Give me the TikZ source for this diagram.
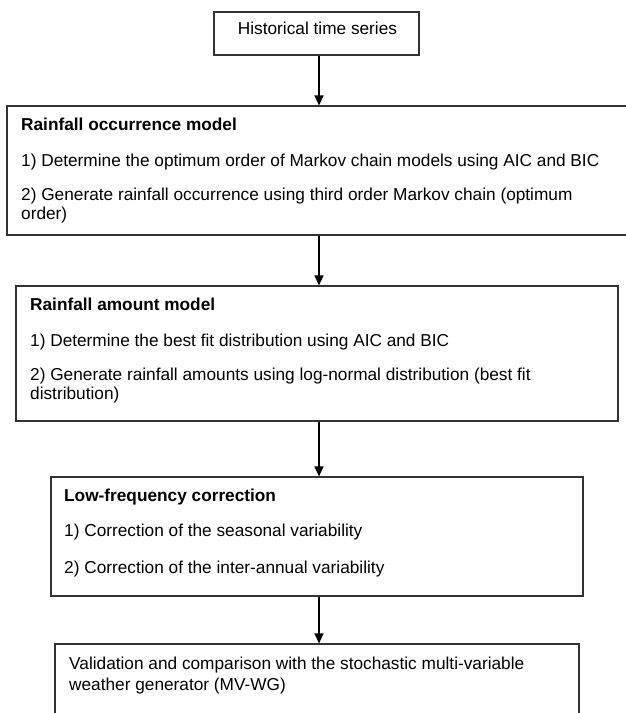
\documentclass[tikz,border=0pt]{standalone}
\usepackage{fontspec}
\setmainfont{Liberation Sans}
\usetikzlibrary{arrows.meta}

\begin{document}
\begin{tikzpicture}[x=1pt, y=-1pt,
  box/.style={draw=black!80, line width=1.1pt, inner sep=0pt},
  txt/.style={font=\fontsize{17.25}{20}\selectfont, inner sep=0pt, anchor=base west},
  arr/.style={-{Triangle[length=10pt,width=9pt]}, line width=1.2pt}]
  \useasboundingbox (0,0) rectangle (625,713);
  \coordinate (axis) at (319,0);
  % the five stages
  \node[box, minimum width=205pt, minimum height=43pt] (hist) at (316.5,33.5) {};
  \node[box, minimum width=625pt, minimum height=129pt] (occ) at (319.5,170.5) {};
  \node[box, minimum width=602pt, minimum height=135pt] (amt) at (317,353.5) {};
  \node[box, minimum width=532pt, minimum height=119pt] (lowf) at (317,536.5) {};
  \node[box, minimum width=524pt, minimum height=78pt] (valid) at (317,683) {};
  % texts
  \node[txt, anchor=base] (histT) at (317.5,34) {Historical time series};
  \node[txt] (occT) at (21,130) {\textbf{Rainfall occurrence model}};
  \node[txt] (occA) at (21,166) {1) Determine the optimum order of Markov chain models using AIC and BIC};
  \node[txt] (occB) at (21,200) {2) Generate rainfall occurrence using third order Markov chain (optimum};
  \node[txt] (occC) at (21,219) {order)};
  \node[txt] (amtT) at (30,310) {\textbf{Rainfall amount model}};
  \node[txt] (amtA) at (30,346) {1) Determine the best fit distribution using AIC and BIC};
  \node[txt] (amtB) at (30,380) {2) Generate rainfall amounts using log-normal distribution (best fit};
  \node[txt] (amtC) at (30,399) {distribution)};
  \node[txt] (lowfT) at (64,501) {\textbf{Low-frequency correction}};
  \node[txt] (lowfA) at (64,536) {1) Correction of the seasonal variability};
  \node[txt] (lowfB) at (64,573) {2) Correction of the inter-annual variability};
  \node[txt] (validA) at (69,669) {Validation and comparison with the stochastic multi-variable};
  \node[txt] (validB) at (69,690) {weather generator (MV-WG)};
  % arrows
  \draw[arr] (hist.south -| axis) -- (occ.north -| axis);
  \draw[arr] (occ.south -| axis) -- (amt.north -| axis);
  \draw[arr] (amt.south -| axis) -- (lowf.north -| axis);
  \draw[arr] (lowf.south -| axis) -- (valid.north -| axis);
\end{tikzpicture}
\end{document}
